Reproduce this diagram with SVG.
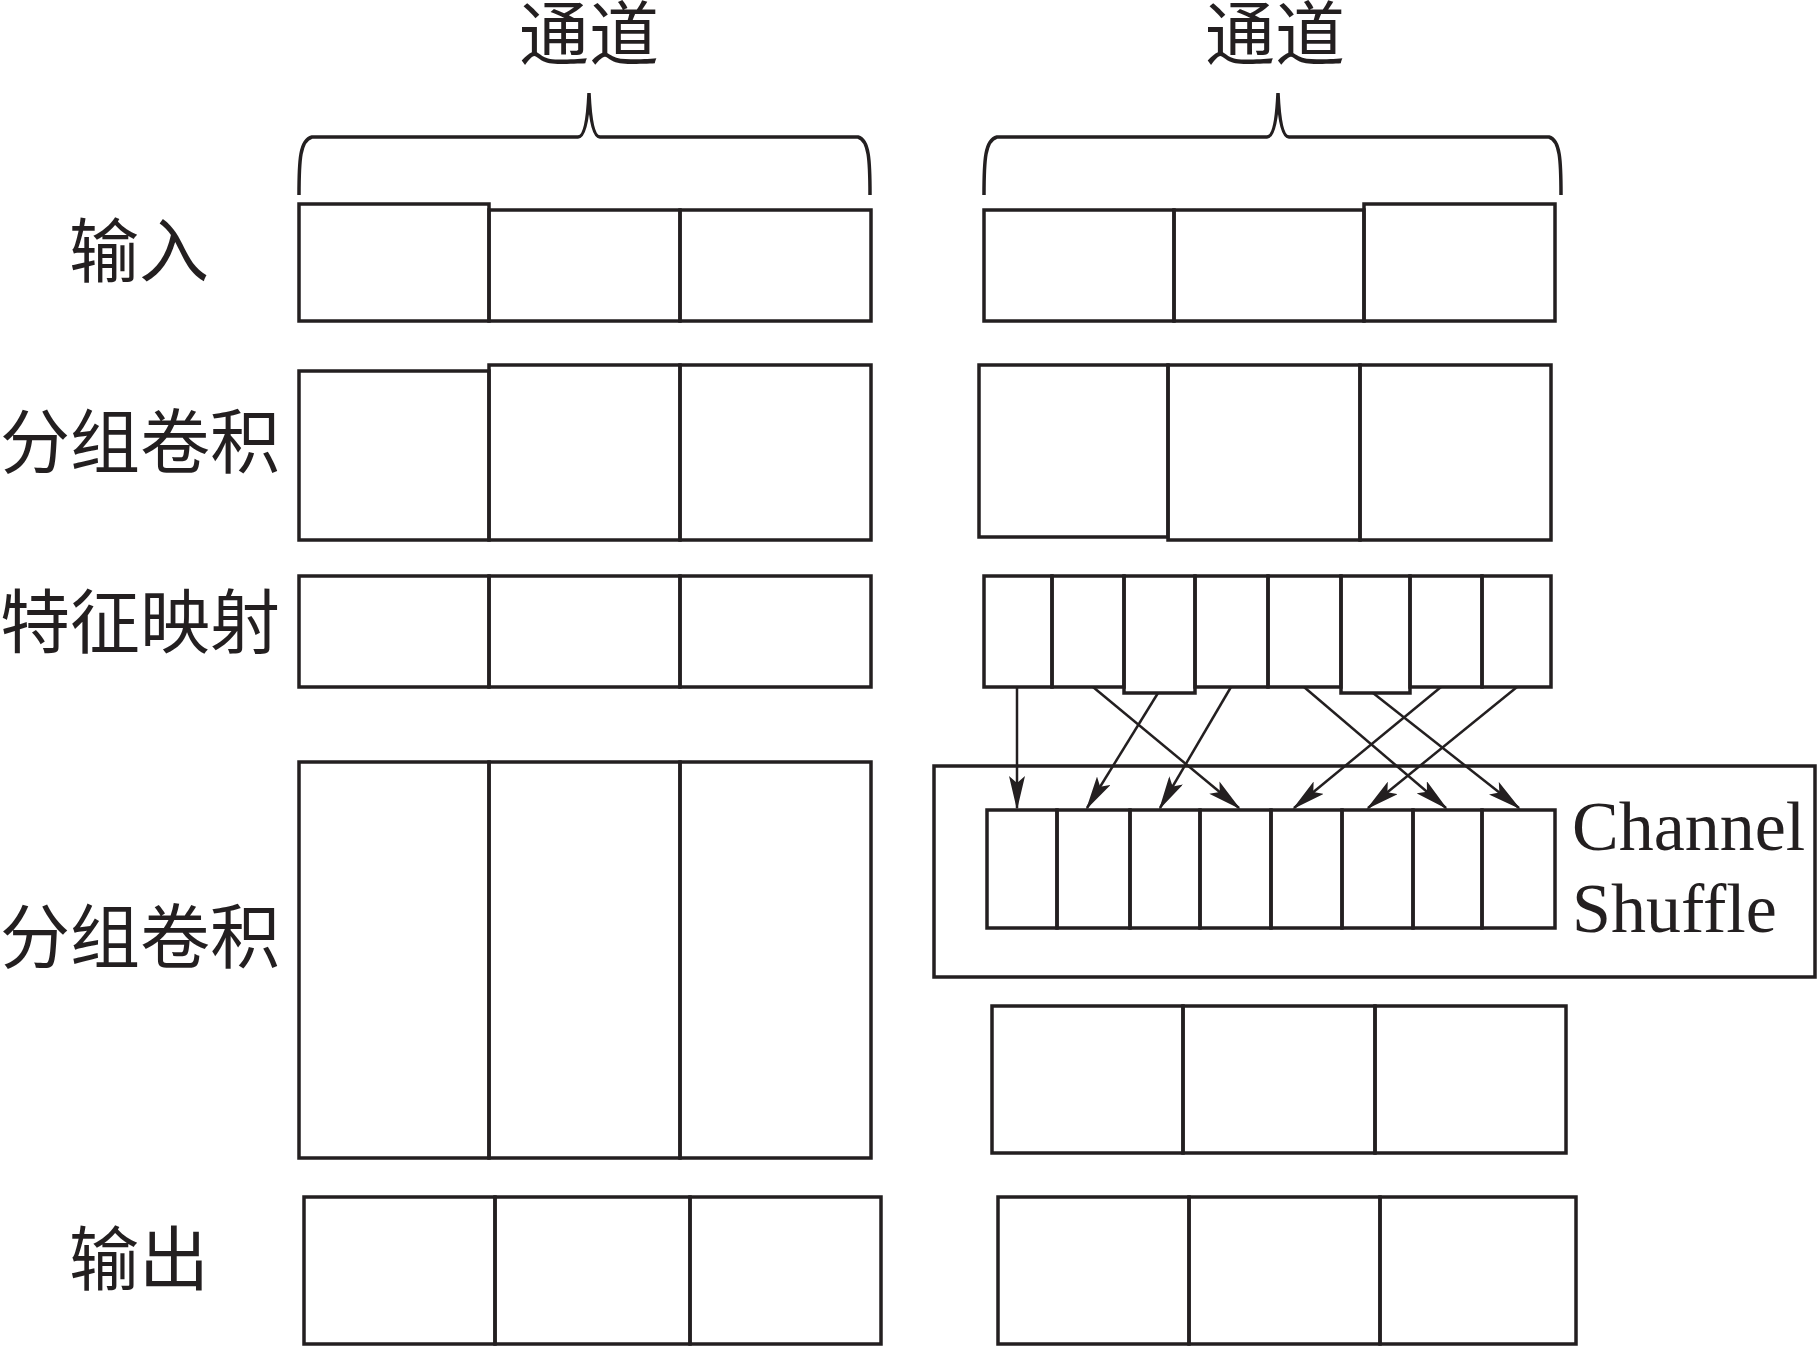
<svg xmlns="http://www.w3.org/2000/svg" width="1817" height="1346" viewBox="0 0 1817 1346">
<style>
.b{fill:none;stroke:#231f20;stroke-width:3.5}
.c{font-family:"Liberation Serif","Noto Sans CJK SC",serif;font-size:70px;fill:#231f20}
.e{font-family:"Liberation Serif",serif;font-size:70px;fill:#231f20}
.a{stroke:#231f20;stroke-width:2.5;fill:none;marker-end:url(#ah)}
</style>
<defs>
<marker id="ah" markerWidth="34" markerHeight="16" refX="32" refY="8" orient="auto" markerUnits="userSpaceOnUse">
<path d="M0,0 L34,8 L0,16 L7,8 Z" fill="#231f20"/>
</marker>
</defs>
<rect width="1817" height="1346" fill="#fff"/>
<g id="labels">
<text class="c" x="589" y="60" text-anchor="middle">通道</text>
<text class="c" x="1275" y="60" text-anchor="middle">通道</text>
<text class="c" x="69" y="277">输入</text>
<text class="c" x="0" y="468">分组卷积</text>
<text class="c" x="0" y="648">特征映射</text>
<text class="c" x="0" y="963">分组卷积</text>
<text class="c" x="69" y="1285">输出</text>
</g>
<g id="braces">
<path class="b" d="M299,195 C299,160 300,140 312,137 L578,137 Q587,137 589,93 Q591,137 600,137 L858,137 C869,140 870,160 870,195"/>
<path class="b" d="M984,195 C984,160 985,140 997,137 L1267,137 Q1276,137 1278,93 Q1280,137 1289,137 L1549,137 C1560,140 1561,160 1561,195"/>
</g>
<g id="left-input"><rect class="b" x="299" y="204" width="190" height="117"/><rect class="b" x="489" y="210" width="191" height="111"/><rect class="b" x="680" y="210" width="191" height="111"/></g>
<g id="left-gconv1"><rect class="b" x="299" y="371" width="190" height="169"/><rect class="b" x="489" y="365" width="191" height="175"/><rect class="b" x="680" y="365" width="191" height="175"/></g>
<g id="left-fmap"><rect class="b" x="299" y="576" width="190" height="111"/><rect class="b" x="489" y="576" width="191" height="111"/><rect class="b" x="680" y="576" width="191" height="111"/></g>
<g id="left-gconv2"><rect class="b" x="299" y="762" width="190" height="396"/><rect class="b" x="489" y="762" width="191" height="396"/><rect class="b" x="680" y="762" width="191" height="396"/></g>
<g id="left-output"><rect class="b" x="304" y="1197" width="191" height="147"/><rect class="b" x="495" y="1197" width="195" height="147"/><rect class="b" x="690" y="1197" width="191" height="147"/></g>
<g id="right-input"><rect class="b" x="984" y="210" width="190" height="111"/><rect class="b" x="1174" y="210" width="190" height="111"/><rect class="b" x="1364" y="204" width="191" height="117"/></g>
<g id="right-gconv1"><rect class="b" x="979" y="365" width="189" height="172"/><rect class="b" x="1168" y="365" width="192" height="175"/><rect class="b" x="1360" y="365" width="191" height="175"/></g>
<g id="right-fmap">
<rect class="b" x="984" y="576" width="68" height="111"/><rect class="b" x="1052" y="576" width="72" height="111"/><rect class="b" x="1124" y="576" width="71" height="117"/><rect class="b" x="1195" y="576" width="73" height="111"/><rect class="b" x="1268" y="576" width="73" height="111"/><rect class="b" x="1341" y="576" width="69" height="117"/><rect class="b" x="1410" y="576" width="72" height="111"/><rect class="b" x="1482" y="576" width="69" height="111"/>
</g>
<g id="shuffle">
<rect class="b" x="934" y="766" width="881" height="211"/>
<rect class="b" x="987" y="810" width="70" height="118"/><rect class="b" x="1057" y="810" width="73" height="118"/><rect class="b" x="1130" y="810" width="70" height="118"/><rect class="b" x="1200" y="810" width="71" height="118"/><rect class="b" x="1271" y="810" width="71" height="118"/><rect class="b" x="1342" y="810" width="71" height="118"/><rect class="b" x="1413" y="810" width="69" height="118"/><rect class="b" x="1482" y="810" width="73" height="118"/>
<text class="e" x="1572" y="850">Channel</text>
<text class="e" x="1572" y="932">Shuffle</text>
</g>
<g id="right-gconv2"><rect class="b" x="992" y="1006" width="191" height="147"/><rect class="b" x="1183" y="1006" width="192" height="147"/><rect class="b" x="1375" y="1006" width="191" height="147"/></g>
<g id="right-output"><rect class="b" x="998" y="1197" width="191" height="147"/><rect class="b" x="1189" y="1197" width="191" height="147"/><rect class="b" x="1380" y="1197" width="196" height="147"/></g>
<g id="connectors">
<line class="a" x1="1017" y1="687" x2="1017" y2="808"/>
<line class="a" x1="1093" y1="687" x2="1239" y2="808"/>
<line class="a" x1="1158" y1="693" x2="1087" y2="808"/>
<line class="a" x1="1231" y1="687" x2="1160" y2="808"/>
<line class="a" x1="1304" y1="687" x2="1446" y2="808"/>
<line class="a" x1="1373" y1="693" x2="1519" y2="808"/>
<line class="a" x1="1441" y1="687" x2="1294" y2="808"/>
<line class="a" x1="1517" y1="687" x2="1368" y2="808"/>
</g>
</svg>
